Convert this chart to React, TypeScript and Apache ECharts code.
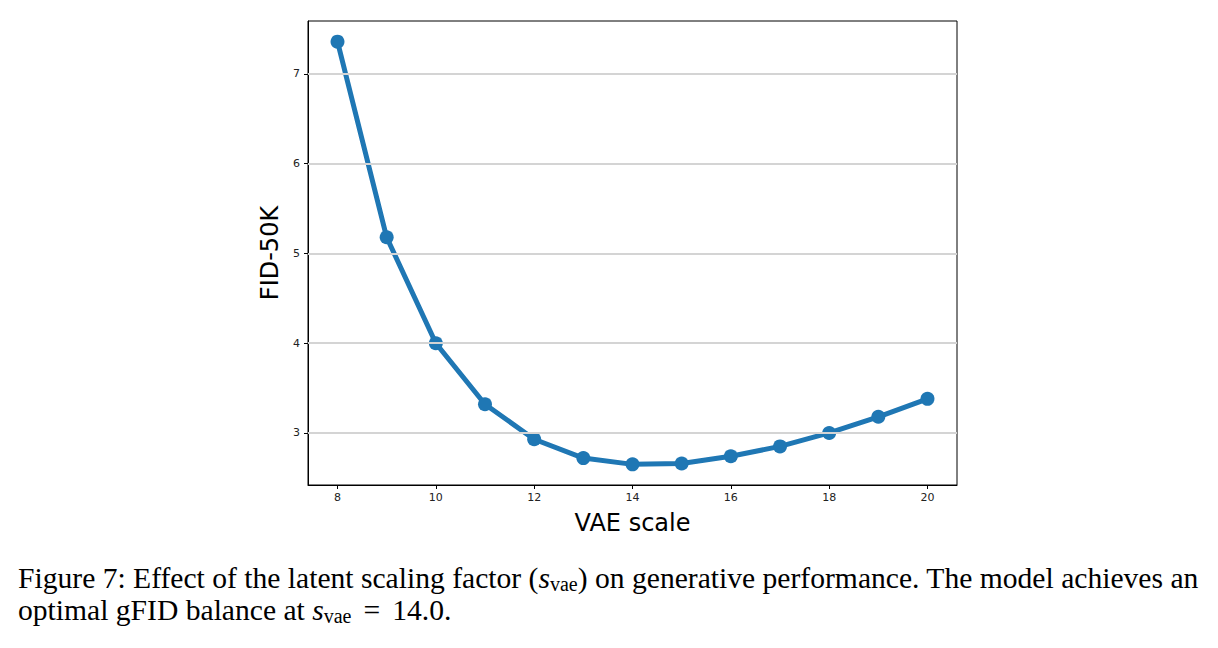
import React, { useEffect, useRef } from "react";
import * as echarts from "echarts";

const vaeScale = [8, 9, 10, 11, 12, 13, 14, 15, 16, 17, 18, 19, 20];
const fid50k = [7.36, 5.18, 4.0, 3.32, 2.93, 2.72, 2.65, 2.66, 2.74, 2.85, 3.0, 3.18, 3.38];
const xTicks = [8, 10, 12, 14, 16, 18, 20];
const yTicks = [3, 4, 5, 6, 7];
const xLabel = "VAE scale";
const yLabel = "FID-50K";

export default function App() {
  const ref = useRef<HTMLDivElement>(null);
  useEffect(() => {
    document.body.style.margin = "0";
    const chart = echarts.init(ref.current!, null, { renderer: "svg" });
    const tickFont = { fontFamily: "DejaVu Sans", fontSize: 11, color: "#222" };
    chart.setOption({
      animation: false,
      backgroundColor: "#fff",
      grid: { left: 308, top: 21, width: 649, height: 464, show: true, borderColor: "#000", borderWidth: 1 },
      xAxis: {
        type: "value",
        min: 7.4,
        max: 20.6,
        name: xLabel,
        nameLocation: "middle",
        nameGap: 26,
        nameTextStyle: { fontFamily: "DejaVu Sans", fontSize: 24, color: "#000" },
        axisLine: { show: true, onZero: false, lineStyle: { color: "#000", width: 1 } },
        axisTick: { show: true, customValues: xTicks, length: 4, lineStyle: { color: "#000" } },
        axisLabel: { customValues: xTicks, ...tickFont, margin: 7 },
        splitLine: { show: false },
      },
      yAxis: {
        type: "value",
        min: 2.42,
        max: 7.59,
        name: yLabel,
        nameLocation: "middle",
        nameGap: 23,
        nameTextStyle: { fontFamily: "DejaVu Sans", fontSize: 24, color: "#000" },
        axisLine: { show: true, onZero: false, lineStyle: { color: "#000", width: 1 } },
        axisTick: { show: true, customValues: yTicks, length: 4, lineStyle: { color: "#000" } },
        axisLabel: { customValues: yTicks, ...tickFont, margin: 8 },
        splitLine: { show: false },
      },
      series: [
        {
          type: "line",
          data: [],
          z: 1,
          silent: true,
          markLine: {
            silent: true,
            symbol: "none",
            label: { show: false },
            lineStyle: { color: "#d4d4d4", width: 2, type: "solid" },
            data: yTicks.map((v) => ({ yAxis: v })),
          },
        },
        {
          type: "line",
          z: 3,
          data: vaeScale.map((x, i) => [x, fid50k[i]]),
          symbol: "circle",
          symbolSize: 14,
          lineStyle: { color: "#1f77b4", width: 5 },
          itemStyle: { color: "#1f77b4" },
        },
      ],
      graphic: [
        {
          type: "text",
          left: 18,
          top: 563,
          style: {
            text: "{n|Figure 7: Effect of the latent scaling factor (}{i|s}{s|vae}{n|) on generative performance. The model achieves an}\n{n|optimal gFID balance at }{i|s}{s|vae}{e|=}{n|14.0.}",
            rich: {
              n: { fontFamily: "Liberation Serif", fontSize: 29.6, color: "#000", lineHeight: 32, verticalAlign: "middle" },
              e: { fontFamily: "Liberation Serif", fontSize: 29.6, color: "#000", lineHeight: 32, verticalAlign: "middle", padding: [0, 12, 0, 12] },
              i: { fontFamily: "Liberation Serif", fontStyle: "italic", fontSize: 29.6, color: "#000", lineHeight: 32, verticalAlign: "middle" },
              s: { fontFamily: "Liberation Serif", fontSize: 20, color: "#000", lineHeight: 20, verticalAlign: "bottom" },
            },
          },
        },
      ],
    });
    return () => chart.dispose();
  }, []);
  return <div ref={ref} style={{ width: 1218, height: 648 }} />;
}
